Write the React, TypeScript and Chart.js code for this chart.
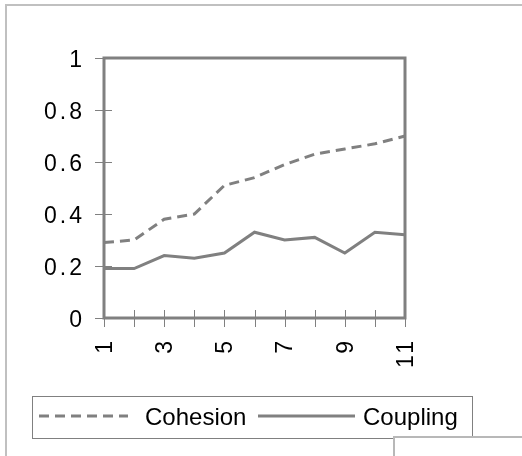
import React, { useEffect, useRef } from 'react';
import { Chart, registerables } from 'chart.js';

Chart.register(...registerables);

const categories = ['1', '2', '3', '4', '5', '6', '7', '8', '9', '10', '11'];
const shownXLabels = ['1', '3', '5', '7', '9', '11'];
const seriesNames = ['Cohesion', 'Coupling'];
const cohesion = [0.29, 0.3, 0.38, 0.4, 0.51, 0.54, 0.59, 0.63, 0.65, 0.67, 0.7];
const coupling = [0.19, 0.19, 0.24, 0.23, 0.25, 0.33, 0.3, 0.31, 0.25, 0.33, 0.32];
const yTicks = [0, 0.2, 0.4, 0.6, 0.8, 1];

const GRAY = '#808080';
const FONT = '"Liberation Sans", Arial, sans-serif';

export default function App() {
  const ref = useRef<HTMLCanvasElement>(null);

  useEffect(() => {
    document.body.style.margin = '0';
    const canvas = ref.current;
    if (!canvas) return;

    const framePlugin = {
      id: 'framePlugin',
      beforeDraw(chart: any) {
        chart.ctx.letterSpacing = '3px';
      },
      afterDraw(chart: any) {
        const c = chart.ctx;
        c.save();
        c.letterSpacing = '0px';
        const { left, right, top, bottom } = chart.chartArea;
        const xs = chart.scales.x;
        const ys = chart.scales.y;
        c.strokeStyle = GRAY;
        c.lineWidth = 1;
        c.beginPath();
        ys.ticks.forEach((_t: any, i: number) => {
          const y = Math.round(ys.getPixelForTick(i)) + 0.5;
          c.moveTo(left - 9, y);
          c.lineTo(left + 8, y);
        });
        xs.ticks.forEach((_t: any, i: number) => {
          const x = Math.round(xs.getPixelForTick(i)) + 0.5;
          c.moveTo(x, bottom - 8);
          c.lineTo(x, bottom + 9);
        });
        c.stroke();
        c.lineWidth = 3;
        c.strokeRect(left, top, right - left, bottom - top);

        // legend
        c.lineWidth = 1;
        c.strokeStyle = GRAY;
        c.strokeRect(32.5, 396.5, 440, 42);
        const spots = [
          { x0: 39, x1: 128, tx: 145 },
          { x0: 258, x1: 355, tx: 363 },
        ];
        chart.data.datasets.forEach((ds: any, i: number) => {
          const s = spots[i];
          c.setLineDash(ds.borderDash || []);
          c.lineWidth = 3;
          c.strokeStyle = ds.borderColor;
          c.beginPath();
          c.moveTo(s.x0, 416);
          c.lineTo(s.x1, 416);
          c.stroke();
          c.setLineDash([]);
          c.fillStyle = '#000';
          c.font = `24px ${FONT}`;
          c.textAlign = 'left';
          c.textBaseline = 'alphabetic';
          c.fillText(ds.label, s.tx, 425);
        });
        c.restore();
      },
    };

    const chart = new Chart(canvas, {
      type: 'line',
      data: {
        labels: categories,
        datasets: [
          {
            label: seriesNames[0],
            data: cohesion,
            borderColor: GRAY,
            borderWidth: 3,
            borderDash: [10, 6],
            pointRadius: 0,
            tension: 0,
            fill: false,
          },
          {
            label: seriesNames[1],
            data: coupling,
            borderColor: GRAY,
            borderWidth: 3,
            pointRadius: 0,
            tension: 0,
            fill: false,
          },
        ],
      },
      options: {
        responsive: false,
        animation: false,
        events: [],
        layout: { padding: { left: 0, top: 58, right: 117, bottom: 78 } },
        plugins: {
          legend: { display: false },
          tooltip: { enabled: false },
          title: { display: false },
        },
        scales: {
          x: {
            type: 'category',
            offset: false,
            grid: { display: false, drawTicks: false },
            border: { display: false },
            ticks: {
              autoSkip: false,
              maxRotation: 90,
              minRotation: 90,
              padding: 20,
              labelOffset: 1.5,
              color: '#000',
              font: { family: FONT, size: 23 },
              callback: (_v: any, i: number) =>
                shownXLabels.includes(categories[i]) ? categories[i] : '',
            },
            afterFit: (s: any) => {
              s.height = 60;
            },
          },
          y: {
            min: 0,
            max: 1,
            grid: { display: false, drawTicks: false },
            border: { display: false },
            afterBuildTicks: (s: any) => {
              s.ticks = yTicks.map((v) => ({ value: v }));
            },
            ticks: {
              padding: 19,
              labelOffset: 3,
              color: '#000',
              font: { family: FONT, size: 23 },
              callback: (v: any) => String(v),
            },
            afterFit: (s: any) => {
              s.width = 104;
            },
          },
        },
      },
      plugins: [framePlugin],
    } as any);

    return () => chart.destroy();
  }, []);

  return (
    <div style={{ position: 'relative', width: 522, height: 456, overflow: 'hidden', background: '#fff' }}>
      <div
        style={{
          position: 'absolute',
          left: 5,
          top: 4,
          width: 700,
          height: 700,
          borderLeft: '2px solid #c0c0c0',
          borderTop: '2px solid #c0c0c0',
        }}
      />
      <canvas
        ref={ref}
        width={522}
        height={456}
        style={{ position: 'absolute', left: 0, top: 0, width: 522, height: 456 }}
      />
      <div
        style={{
          position: 'absolute',
          left: 393,
          top: 436,
          width: 300,
          height: 100,
          background: '#fff',
          borderLeft: '2px solid #b8b8b8',
          borderTop: '2px solid #b8b8b8',
        }}
      />
    </div>
  );
}
